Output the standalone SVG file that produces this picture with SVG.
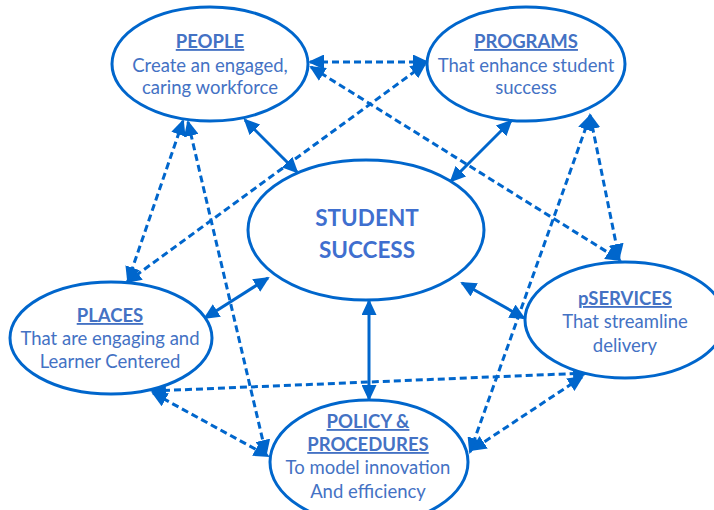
<svg xmlns="http://www.w3.org/2000/svg" width="714" height="510" viewBox="0 0 714 510">
<style>
.node ellipse{fill:#fff;stroke:#0066CC;stroke-width:3}
.t{font-family:Lato,"Open Sans","Liberation Sans",sans-serif;font-size:18.5px;fill:#4472C4;text-anchor:middle}
.h{font-weight:bold;text-decoration:underline}
.big{font-family:Lato,"Open Sans","Liberation Sans",sans-serif;font-size:22.5px;font-weight:bold;fill:#3F6FCF;text-anchor:middle}
.c line{stroke:#0066CC;stroke-width:3;marker-start:url(#ah);marker-end:url(#ah)}
.c .d{stroke-dasharray:7 4}
</style>
<defs>
<marker id="ah" markerUnits="userSpaceOnUse" markerWidth="17" markerHeight="15" refX="14" refY="7.5" orient="auto-start-reverse" viewBox="0 0 17 15">
<path d="M0,0 L16,7.5 L0,15 Z" fill="#0066CC"/>
</marker>
</defs>
<rect width="714" height="510" fill="#fff"/>
<g id="connectors" class="c">
<line x1="245" y1="120" x2="297" y2="172"/>
<line x1="511" y1="121" x2="451" y2="181"/>
<line x1="205" y1="318" x2="268" y2="278"/>
<line x1="462" y1="283" x2="524" y2="318"/>
<line x1="369" y1="301" x2="369" y2="399"/>
<line class="d" x1="310" y1="62" x2="427" y2="62"/>
<line class="d" x1="311" y1="67" x2="620" y2="260"/>
<line class="d" x1="425" y1="64" x2="127" y2="282"/>
<line class="d" x1="183" y1="121" x2="128" y2="281"/>
<line class="d" x1="188" y1="122" x2="266" y2="454"/>
<line class="d" x1="590" y1="115" x2="619" y2="258"/>
<line class="d" x1="590" y1="116" x2="470" y2="452"/>
<line class="d" x1="152" y1="391" x2="587" y2="373"/>
<line class="d" x1="153" y1="393" x2="268" y2="456"/>
<line class="d" x1="582" y1="377" x2="472" y2="450"/>
</g>
<g id="student-success" class="node">
<ellipse cx="366" cy="230" rx="118" ry="70"/>
<text class="big" x="367" y="226">STUDENT</text>
<text class="big" x="367" y="258">SUCCESS</text>
</g>
<g id="people" class="node">
<ellipse cx="210" cy="64" rx="98" ry="57"/>
<text class="t h" x="210" y="48">PEOPLE</text>
<text class="t" x="210" y="72">Create an engaged,</text>
<text class="t" x="210" y="94">caring workforce</text>
</g>
<g id="programs" class="node">
<ellipse cx="526" cy="64" rx="99" ry="57"/>
<text class="t h" x="526" y="48">PROGRAMS</text>
<text class="t" x="526" y="72">That enhance student</text>
<text class="t" x="526" y="94">success</text>
</g>
<g id="places" class="node">
<ellipse cx="111" cy="338" rx="101" ry="56"/>
<text class="t h" x="110" y="322">PLACES</text>
<text class="t" x="110" y="345">That are engaging and</text>
<text class="t" x="110" y="368">Learner Centered</text>
</g>
<g id="pservices" class="node">
<ellipse cx="625" cy="320" rx="100" ry="58"/>
<text class="t h" x="625" y="305">pSERVICES</text>
<text class="t" x="625" y="328">That streamline</text>
<text class="t" x="625" y="352">delivery</text>
</g>
<g id="policy" class="node">
<ellipse cx="369" cy="462" rx="99" ry="62"/>
<text class="t h" x="368" y="428">POLICY &amp;</text>
<text class="t h" x="368" y="451">PROCEDURES</text>
<text class="t" x="368" y="474">To model innovation</text>
<text class="t" x="368" y="498">And efficiency</text>
</g>
</svg>
